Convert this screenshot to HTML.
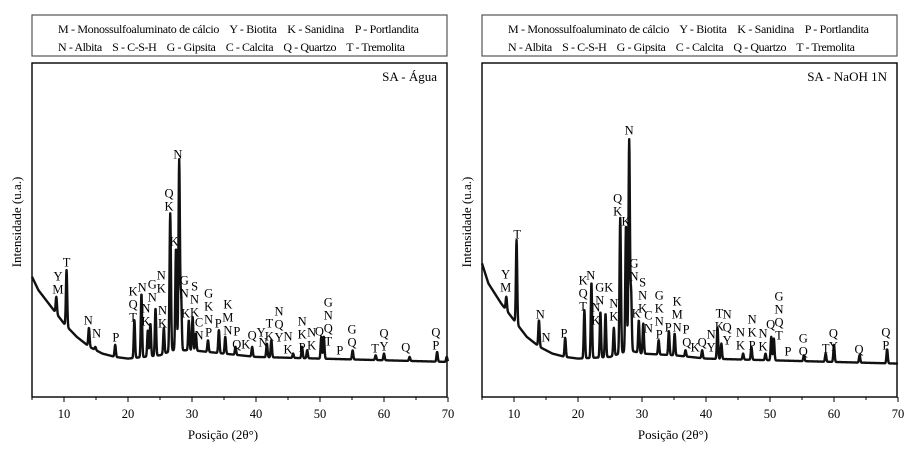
<!DOCTYPE html>
<html><head><meta charset="utf-8"><style>
body{margin:0;background:#fff;width:919px;height:452px;overflow:hidden}
svg{display:block;font-family:"Liberation Serif",serif}
</style></head><body>
<svg id="chart" width="919" height="452" viewBox="0 0 919 452"></svg>
<script>
// ---------- data ----------
const xTicks = [10,20,30,40,50,60,70];
const panelTitles = ["SA - Água","SA - NaOH 1N"];
const legendLine1 = "M - Monossulfoaluminato de cálcio    Y - Biotita    K - Sanidina    P - Portlandita";
const legendLine2 = "N - Albita    S - C-S-H    G - Gipsita    C - Calcita    Q - Quartzo    T - Tremolita";

// baseline knots: 2θ and intensity (0-100)
const baseXA = [5,6,8,10,12,14,16,18,20,25,27,30,35,40,50,60,70];
const baseYA = [36,32,27,22,18,15,13,12,11.5,12.5,14,14,13,12,11.5,11,10.5];
const baseXB = [5,6,8,10,12,14,16,18,20,25,28,30,35,40,50,60,70];
const baseYB = [40,34,28,23,18,15,13,12,11.5,12,14,13,12.5,11.5,11,10.5,10];

// peaks: position and apex intensity
const peakPosA = [8.8,10.4,13.9,14.9,18,21,22.1,23.1,23.5,24.3,25.6,26.6,27.5,28,28.3,29.5,30.1,30.6,32.5,34.2,35.2,36.8,39.4,41.7,42.4,45.8,47.2,48,50.2,50.6,55.1,58.7,60,64,68.3,69.8];
const peakValA = [30,38,20.7,15,15.6,23,31,20,22,26.6,20.7,55,44.6,71,30,23,24,19,17,20,18,15,15,16,17,13,15,14,18,18,14,12.5,13,12,13.5,12];
const peakPosB = [8.8,10.4,13.9,18,21,22.1,23.5,24.3,25.6,26.6,27.5,28,28.3,29.5,30.2,32.6,34.2,35.1,36.8,39.4,41.8,42.4,45.8,47.1,49.3,50.2,50.6,55.3,58.7,60,64,68.3];
const peakValB = [30,47,23,17.7,26,34.4,25.5,25,20.7,53.6,51.5,77,31,23,22,17,19.7,19,14,14,20.7,16,13,15,13,18,17.5,12.5,13,15.6,12.5,14.3];

// annotations: 2θ, intensity level of top letter, letters (top→bottom)
const annPosA = [9.06,10.4,13.8,15.1,18.1,20.8,22.2,22.8,23.8,25.2,25.4,26.4,27.8,27.2,28.8,29.0,30.4,31.1,32.6,34.1,35.6,37.0,38.4,39.4,40.8,41.1,42.1,43.6,45.0,47.2,48.7,49.9,51.3,53.1,55.0,58.6,60.0,63.4,68.1];
const annLvlA = [36.2,40.4,23.1,19.2,18.0,31.7,32.9,26.6,33.8,36.5,26.0,61.1,72.8,46.7,35.0,25.1,33.2,22.5,31.1,22.2,27.8,19.8,15.9,18.6,19.5,16.5,22.2,25.7,18.3,22.8,19.5,19.8,28.4,14.1,20.4,14.7,19.2,15.0,19.5];
const annTxtA = ["YM","T","N","N","P","KQT","N","NK","GN","NK","NK","QK","N","K","GN","K","SNK","CN","GKNP","P","KMN","PQ","K","Q","Y","N","TK","NQY","NK","NKP","NK","Q","GNQT","P","GQ","T","QY","Q","QP"];
const annPosB = [8.7,10.5,14.1,15.0,17.8,20.8,22.0,22.8,23.4,24.8,25.6,26.2,27.5,28.0,28.75,29.1,30.1,31.0,32.7,34.1,35.5,36.9,37.0,38.3,39.4,40.8,42.1,43.3,45.4,47.2,48.9,50.1,51.4,52.8,55.2,58.7,59.9,63.9,68.1];
const annLvlB = [36.8,48.8,24.9,18.0,19.2,35.0,36.5,26.9,32.9,32.9,28.1,59.6,52.7,80,40.1,25.1,34.4,24.6,30.5,21.0,28.7,20.4,16.5,15.0,16.5,18.9,25.1,24.9,19.5,23.4,19.2,21.9,30.2,13.8,17.7,14.7,19.2,14.4,19.5];
const annTxtB = ["YM","T","N","N","P","KQT","N","NK","GN","K","NK","QK","K","N","GN","K","SNK","CN","GKNP","P","KMN","P","Q","K","Q","NY","TK","NQY","NK","NKP","NK","Q","GNQT","P","GQ","T","QY","Q","QP"];

// ---------- drawing ----------
const NS="http://www.w3.org/2000/svg";
const svg=document.getElementById('chart');
function mk(tag,attrs,parent){const e=document.createElementNS(NS,tag);for(const k in attrs)e.setAttribute(k,attrs[k]);(parent||svg).appendChild(e);return e;}
const Y0=397, YT=63;
function yS(v){return Y0 - v*3.34;}
function interp(xs,ys,x){if(x<=xs[0])return ys[0];for(let i=1;i<xs.length;i++){if(x<=xs[i]){const t=(x-xs[i-1])/(xs[i]-xs[i-1]);return ys[i-1]+t*(ys[i]-ys[i-1]);}}return ys[ys.length-1];}

function panel(x0,idx,bx,by,pp,pv,ap,al,at){
  const xS=d=>x0+(d-5)*6.4;
  const g=mk('g',{});
  
  
  // legend box
  const lg=mk('g',{},g);
  
  
  mk('rect',{x:x0,y:15,width:415,height:41,fill:'none',stroke:'#555','stroke-width':1.2},lg);
  const t1=mk('text',{x:x0+26,y:33,'font-size':12,textLength:361,lengthAdjust:'spacing',style:'white-space:pre'},lg);t1.textContent=legendLine1;
  
  const t2=mk('text',{x:x0+26,y:51,'font-size':12,textLength:347,lengthAdjust:'spacing',style:'white-space:pre'},lg);t2.textContent=legendLine2;
  
  // frame
  const fr=mk('rect',{x:x0,y:YT,width:415,height:Y0-YT,fill:'none',stroke:'#000','stroke-width':1.4},g);
  
  // ticks
  for(let d=5;d<=70;d+=5){
    const major=xTicks.includes(d);
    const t=mk('line',{x1:xS(d),x2:xS(d),y1:Y0,y2:Y0+(major?5:3),stroke:'#000','stroke-width':1},g);
    
  }
  xTicks.forEach(d=>{
    const l=mk('text',{x:xS(d),y:418,'font-size':12.5,'text-anchor':'middle'},g);l.textContent=d;
    
  });
  const xt=mk('text',{x:x0+191,y:439,'font-size':13,'text-anchor':'middle'},g);xt.textContent='Posição (2θ°)';
  
  const ytx=x0-11, yty=222;
  const yt=mk('text',{x:ytx,y:yty,'font-size':13,'text-anchor':'middle',transform:`rotate(-90 ${ytx} ${yty})`},g);yt.textContent='Intensidade (u.a.)';
  
  const pt=mk('text',{x:x0+405,y:81,'font-size':13,'text-anchor':'end'},g);pt.textContent=panelTitles[idx];
  
  // trace
  const amps=pp.map((p,i)=>pv[i]-interp(bx,by,p));
  let d='';
  for(let x=5;x<=70.0001;x+=0.04){
    let v=interp(bx,by,x);
    pp.forEach((p,i)=>{const s=(p===28||p===26.6||p===27.5)?0.11:0.1;v+=amps[i]*Math.exp(-((x-p)*(x-p))/(2*s*s));});
    d+=(d?'L':'M')+xS(x).toFixed(2)+','+yS(v).toFixed(2);
  }
  const tr=mk('path',{d:d,fill:'none',stroke:'#111','stroke-width':2.4,'stroke-linejoin':'round'},g);
  
  // annotations
  ap.forEach((p,i)=>{
    const letters=at[i].split('');
    letters.forEach((c,j)=>{
      const e=mk('text',{x:xS(p),y:yS(al[i])+4.5+j*13,'font-size':12.5,'text-anchor':'middle'},g);
      e.textContent=c;
      
      
    });
  });
}
panel(32,0,baseXA,baseYA,peakPosA,peakValA,annPosA,annLvlA,annTxtA);
panel(482,1,baseXB,baseYB,peakPosB,peakValB,annPosB,annLvlB,annTxtB);
</script>
</body></html>
